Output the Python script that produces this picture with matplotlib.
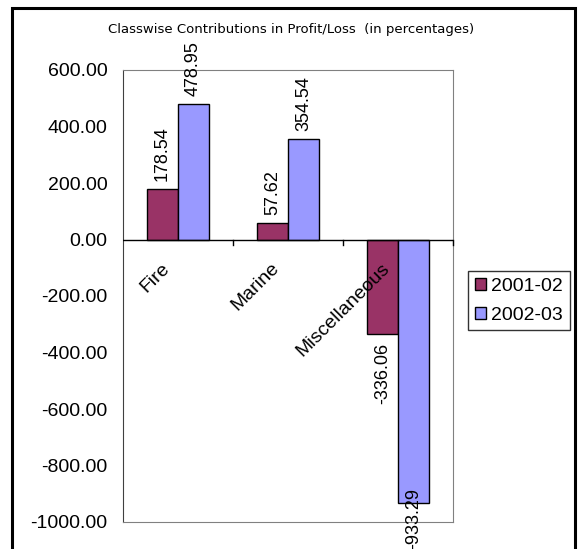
import numpy as np
import matplotlib
matplotlib.use("Agg")
import matplotlib.pyplot as plt
from matplotlib.patches import Rectangle

plt.rcParams['font.family'] = ['Liberation Sans', 'DejaVu Sans']

# data
categories = ["Fire", "Marine", "Miscellaneous"]
years = ["2001-02", "2002-03"]
v_2001 = [178.54, 57.62, -336.06]
v_2002 = [478.95, 354.54, -933.29]
yticks = [-1000, -800, -600, -400, -200, 0, 200, 400, 600]

kleuren = ['#993366', '#9999FF']
fs = 14

fig = plt.figure(figsize=(5.81, 5.49), dpi=100)
ax = fig.add_axes([123/581, 1 - 522/549, 330/581, 452/549])

x = np.arange(len(categories))
w = 0.28
bars1 = ax.bar(x - w/2, v_2001, w, color=kleuren[0], edgecolor='black', linewidth=1, label=years[0], zorder=3)
bars2 = ax.bar(x + w/2, v_2002, w, color=kleuren[1], edgecolor='black', linewidth=1, label=years[1], zorder=3)

ax.set_xlim(-0.5, 2.5)
ax.set_ylim(-1000, 600)
ax.set_yticks(yticks)
ax.set_yticklabels(['%.2f' % t for t in yticks], fontsize=fs)
ax.tick_params(axis='y', length=0, pad=11)

# x-as ligt op nul
ax.set_xticks([])
ax.axhline(0, color='black', linewidth=1, zorder=4)
for b in [0.5, 1.5, 2.5]:
    ax.plot([b, b], [0, -18], color='black', linewidth=1, zorder=4, clip_on=False)

for s in ['top', 'right', 'bottom']:
    ax.spines[s].set_color('#808080')
ax.spines['left'].set_color('#404040')

# categorie labels schuin
for i, c in enumerate(categories):
    ax.annotate(c, (i, 0), xytext=(-8, -19), textcoords='offset points',
                rotation=45, rotation_mode='anchor', ha='right', va='center',
                fontsize=fs, zorder=5)

# waarde labels
labels = []
for bars in [bars1, bars2]:
    for r in bars:
        h = r.get_height()
        xc = r.get_x() + r.get_width()/2
        if h >= 0:
            t = ax.annotate('%.2f' % h, (xc, h), xytext=(0, 6), textcoords='offset points',
                            rotation=90, ha='center', va='bottom', fontsize=13, annotation_clip=False)
        else:
            t = ax.annotate('%.2f' % h, (xc, h), xytext=(0, -6), textcoords='offset points',
                            rotation=90, ha='center', va='top', fontsize=13, annotation_clip=False)
        labels.append(t)

# labels die buiten de figuur vallen omhoog schuiven (zoals Excel doet)
fig.canvas.draw()
renderer = fig.canvas.get_renderer()
for t in labels:
    bb = t.get_window_extent(renderer)
    if bb.y0 < 0:
        ox, oy = t.xyann
        t.xyann = (ox, oy - bb.y0 * 72 / fig.dpi)

fig.text(291/581, 1 - 30/549, "Classwise Contributions in Profit/Loss  (in percentages)",
         ha='center', va='center', fontsize=9.5, family='DejaVu Sans')

leg = fig.legend(handles=[bars1, bars2], labels=years, loc='upper left',
                 bbox_to_anchor=(468/581, 1 - 271/549), fontsize=14, frameon=True,
                 fancybox=False, edgecolor='black', handlelength=0.6, handleheight=0.6,
                 handletextpad=0.25, borderaxespad=0, borderpad=0.35, labelspacing=0.6)
leg.get_frame().set_linewidth(1)

# rand om de hele grafiek
fig.patches.append(Rectangle((12/581, -0.1), (575 - 12)/581, 1.1 - 8/549,
                             transform=fig.transFigure, fill=False, edgecolor='black',
                             linewidth=2.2, clip_on=False))

fig.savefig('out.png', dpi=100)
